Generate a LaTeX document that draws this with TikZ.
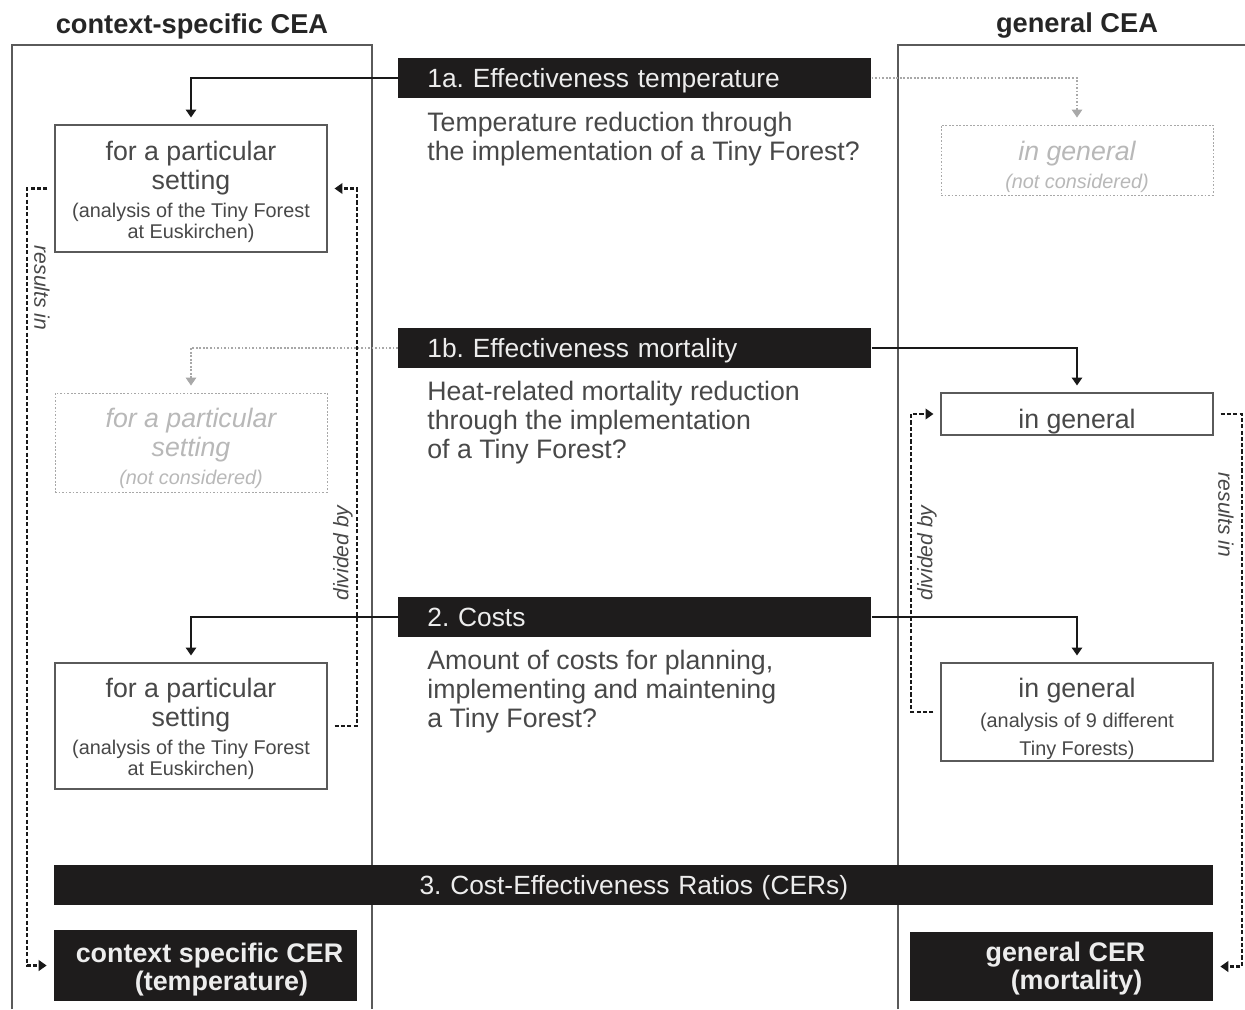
\documentclass[tikz,border=0pt]{standalone}
\usepackage{fontspec}
\setmainfont{Liberation Sans}
\usetikzlibrary{arrows.meta}
\newcommand\pxs{0.02cm}
\newcommand\bodyf{\fontsize{15.2}{16.4}\selectfont}
\newcommand\barf{\fontsize{15}{16.4}\selectfont}
\newcommand\smallf{\fontsize{11.3}{12}\selectfont}
% lifts the first line of a node to set its text lower in the box
\newcommand\topstrut[1]{\rule{0pt}{#1}}
\definecolor{ink}{HTML}{484848}
\definecolor{barfill}{HTML}{1E1C1C}
\definecolor{bartext}{HTML}{EDEDED}
\definecolor{ghost}{HTML}{A8A8A8}
\definecolor{ghosttext}{HTML}{B8B8B8}
\definecolor{frame}{HTML}{5A5A5A}
\frenchspacing
\begin{document}
\begin{tikzpicture}[x=0.02cm,y=-0.02cm,
  title/.style={font=\fontsize{15.5}{17}\selectfont\bfseries, text=black!85},
  panel/.style={draw=frame, line width=0.6pt},
  bar/.style={fill=barfill, text=bartext, font=\barf, minimum height=40*\pxs,
    text height=12pt, text depth=0.8pt,
    inner xsep=29*\pxs, inner ysep=0pt, align=left},
  question/.style={font=\bodyf, text=ink, align=left, anchor=north west, inner sep=0pt},
  box/.style={draw=frame, line width=0.6pt, fill=white, text=ink, font=\bodyf,
    align=center, minimum width=272*\pxs, inner sep=0pt},
  ghostbox/.style={draw=ghost, line width=0.5pt, dash pattern=on 1pt off 1pt, fill=white,
    text=ghosttext, font=\bodyf\itshape, align=center, minimum width=272*\pxs, inner sep=0pt},
  cer/.style={fill=barfill, text=bartext, font=\fontsize{15.3}{16.4}\selectfont\bfseries,
    align=center, minimum width=303*\pxs, inner sep=0pt},
  conn/.style={draw=black!90, line width=0.75pt, -{Triangle[width=6pt,length=4.5pt]}, shorten >=4pt},
  gconn/.style={draw=ghost, line width=0.6pt, dash pattern=on 1pt off 1pt,
    -{Triangle[width=6pt,length=4.5pt,sep=0pt]}, shorten >=4pt},
  dconn/.style={draw=black!90, line width=1.3pt, dash pattern=on 2.3pt off 1.3pt,
    -{Triangle[width=6pt,length=4.5pt]}, shorten <=4pt, shorten >=4pt},
  lbl/.style={font=\fontsize{12}{13}\selectfont\itshape, text=ink, inner sep=0pt}
]
\useasboundingbox (0,0) rectangle (1245,1009);

% column headings
\node[title] (headL) at (192,26) {context-specific CEA};
\node[title] (headR) at (1077,26) {general CEA};

% the two analysis columns
\draw[panel] (12,1009) -- (12,45) -- (372,45) -- (372,1009);
\draw[panel] (898,1009) -- (898,45) -- (1245,45);

% central question bars
\node[bar, anchor=west, text width=(473-58)*\pxs] (bar1a) at (398,78) {1a. Effectiveness temperature};
\node[question] (q1a) at (427,112) {Temperature reduction through\\the implementation of a Tiny Forest?};

\node[bar, anchor=west, text width=(473-58)*\pxs] (bar1b) at (398,348) {1b. Effectiveness mortality};
\node[question] (q1b) at (427,381) {Heat-related mortality reduction\\through the implementation\\of a Tiny Forest?};

\node[bar, anchor=west, text width=(473-58)*\pxs] (bar2) at (398,617) {2. Costs};
\node[question] (q2) at (427,650) {Amount of costs for planning,\\implementing and maintening\\a Tiny Forest?};

\node[bar, anchor=west, text width=(1159-58)*\pxs, align=center] (bar3) at (54,884.5) {3. Cost-Effectiveness Ratios (CERs)};

% context-specific column
\node[box, minimum height=127*\pxs] (lt) at (191,188.5)
  {\topstrut{14.5pt}for a particular\\setting\\[-0.5pt]\smallf (analysis of the Tiny Forest\\[-4.5pt]\smallf at Euskirchen)};
\node[ghostbox, minimum height=99*\pxs] (lm) at (191,442.5)
  {\topstrut{17.9pt}for a particular\\setting\\[-0.6pt]\smallf\itshape (not considered)};
\node[box, minimum height=126*\pxs] (lb) at (191,726)
  {\topstrut{14.5pt}for a particular\\setting\\[-0.5pt]\smallf (analysis of the Tiny Forest\\[-4.5pt]\smallf at Euskirchen)};

% general column
\node[ghostbox, minimum height=70*\pxs] (rt) at (1077,160)
  {\topstrut{19pt}in general\\[-0.1pt]\smallf\itshape (not considered)};
\node[box, minimum height=42*\pxs, text height=17.8pt, text depth=1pt] (rm) at (1077,414) {in general};
\node[box, minimum height=98*\pxs] (rb) at (1077,712)
  {\topstrut{19pt}in general\\[0.4pt]\smallf (analysis of 9 different\\[-0.5pt]\smallf Tiny Forests)};

% resulting ratios
\node[cer, minimum height=71*\pxs] (cerL) at (205.5,965.5)
  {\topstrut{15.7pt}\hspace*{0.16cm}context specific CER\\\hspace*{0.64cm}(temperature)};
\node[cer, minimum height=69*\pxs] (cerR) at (1061.5,966.5)
  {\topstrut{13.5pt}\hspace*{0.16cm}general CER\\\hspace*{0.60cm}(mortality)};

% flows from the question bars
\draw[conn] (bar1a.west) -| (lt.north);
\draw[gconn] (bar1a.east) -| (rt.north);
\draw[gconn] (bar1b.west) -| (lm.north);
\draw[conn] (bar1b.east) -| (rm.north);
\draw[conn] (bar2.west) -| (lb.north);
\draw[conn] (bar2.east) -| (rb.north);

% rails of the dashed relations
\coordinate (railLL) at (27,0);
\coordinate (railLR) at (357,0);
\coordinate (railRL) at (911,0);
\coordinate (railRR) at (1242,0);

\draw[dconn] (lt.west) -- (lt.west -| railLL) |- (cerL.west);
\draw[dconn] (lb.east) -- (lb.east -| railLR) |- (lt.east);
\draw[dconn] (rb.west) -- (rb.west -| railRL) |- (rm.west);
\draw[dconn] (rm.east) -- (rm.east -| railRR) |- (cerR.east);

\node[lbl, rotate=-90] (resL) at (42,288) {results in};
\node[lbl, rotate=90] (divL) at (343,553) {divided by};
\node[lbl, rotate=90] (divR) at (927,553) {divided by};
\node[lbl, rotate=-90] (resR) at (1226,515) {results in};
\end{tikzpicture}
\end{document}
